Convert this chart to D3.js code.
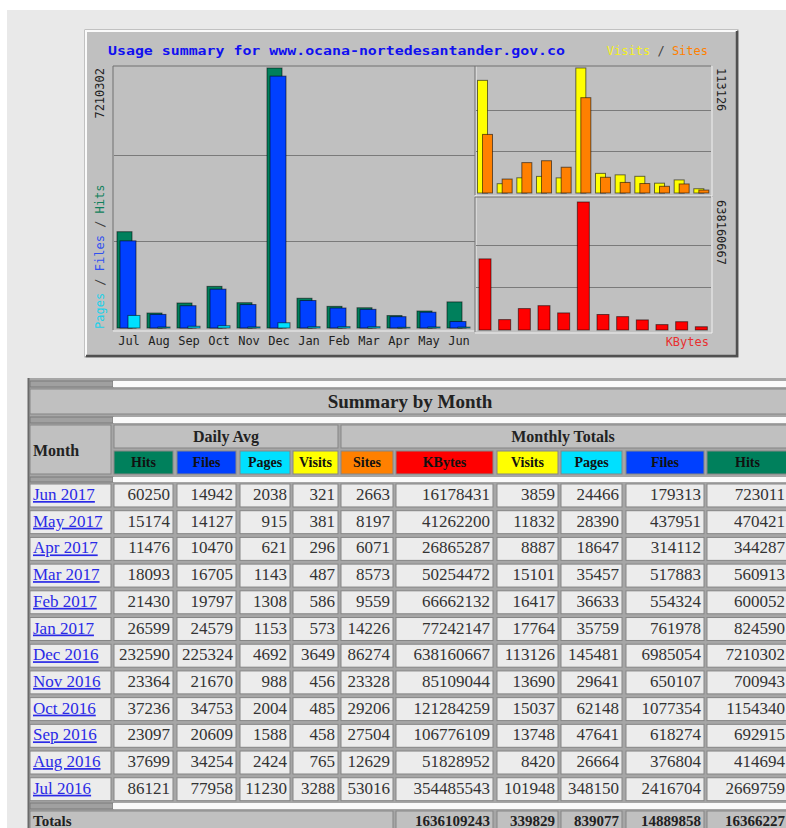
<!DOCTYPE html>
<html>
<head>
<meta charset="utf-8">
<script src="https://cdn.jsdelivr.net/npm/d3@7"></script>
<style>
html, body { margin: 0; padding: 0; background: #fff; overflow: hidden; }
svg { display: block; }
</style>
</head>
<body>
<div id="page"></div>
<script>
// months, oldest first (as on the graph)
var monthNames = ["Jul", "Aug", "Sep", "Oct", "Nov", "Dec", "Jan", "Feb", "Mar", "Apr", "May", "Jun"];
var monthYears = [2016, 2016, 2016, 2016, 2016, 2016, 2017, 2017, 2017, 2017, 2017, 2017];

// monthly totals
var hitsTotal   = [2669759, 414694, 692915, 1154340, 700943, 7210302, 824590, 600052, 560913, 344287, 470421, 723011];
var filesTotal  = [2416704, 376804, 618274, 1077354, 650107, 6985054, 761978, 554324, 517883, 314112, 437951, 179313];
var pagesTotal  = [348150, 26664, 47641, 62148, 29641, 145481, 35759, 36633, 35457, 18647, 28390, 24466];
var visitsTotal = [101948, 8420, 13748, 15037, 13690, 113126, 17764, 16417, 15101, 8887, 11832, 3859];
var sitesTotal  = [53016, 12629, 27504, 29206, 23328, 86274, 14226, 9559, 8573, 6071, 8197, 2663];
var kbytesTotal = [354485543, 51828952, 106776109, 121284259, 85109044, 638160667, 77242147, 66662132, 50254472, 26865287, 41262200, 16178431];

// daily averages
var hitsAvg   = [86121, 37699, 23097, 37236, 23364, 232590, 26599, 21430, 18093, 11476, 15174, 60250];
var filesAvg  = [77958, 34254, 20609, 34753, 21670, 225324, 24579, 19797, 16705, 10470, 14127, 14942];
var pagesAvg  = [11230, 2424, 1588, 2004, 988, 4692, 1153, 1308, 1143, 621, 915, 2038];
var visitsAvg = [3288, 765, 458, 485, 456, 3649, 573, 586, 487, 296, 381, 321];

var siteName = "www.ocana-nortedesantander.gov.co";

var C = {
    hits: "#00805c", files: "#0040ff", pages: "#00e0ff",
    visits: "#ffff00", sites: "#ff8000", kbytes: "#ff0000",
    grey: "#c0c0c0", ltgrey: "#e9e9e9"
};
var mono = "'DejaVu Sans Mono', monospace";
var serif = "'Liberation Serif', 'DejaVu Serif', serif";

var svg = d3.select("#page").append("svg")
    .attr("width", 786)
    .attr("height", 828);

// page background (screenshot has a white strip top/left)
svg.append("rect").attr("x", 7).attr("y", 10).attr("width", 779).attr("height", 818).attr("fill", C.ltgrey);

// ---------- graph ----------
var g = svg.append("g");
g.append("rect").attr("x", 85).attr("y", 30).attr("width", 653).attr("height", 327)
    .attr("fill", C.grey).attr("stroke", "#9a9a9a");
g.append("path").attr("d", "M86,356V31H737").attr("fill", "none").attr("stroke", "#fafafa").attr("stroke-width", 2);
g.append("path").attr("d", "M86,356H737V31").attr("fill", "none").attr("stroke", "#505050").attr("stroke-width", 2.5);

g.append("text").attr("x", 108).attr("y", 55)
    .attr("font-family", mono).attr("font-weight", "bold").attr("font-size", 12)
    .attr("fill", "#1010f0").attr("textLength", 457).attr("lengthAdjust", "spacingAndGlyphs")
    .text("Usage summary for " + siteName);

var leg = g.append("text").attr("x", 708).attr("y", 55).attr("text-anchor", "end")
    .attr("font-family", mono).attr("font-size", 12);
leg.append("tspan").attr("fill", "#f4f020").text("Visits");
leg.append("tspan").attr("fill", "#404040").text(" / ");
leg.append("tspan").attr("fill", C.sites).text("Sites");

// plot frames
function frame(x0, y0, x1, y1) {
    g.append("path").attr("d", "M" + x0 + "," + y1 + "V" + y0 + "H" + x1)
        .attr("fill", "none").attr("stroke", "#707070");
    g.append("path").attr("d", "M" + x0 + "," + (y1 + 1) + "H" + (x1 + 1) + "V" + y0)
        .attr("fill", "none").attr("stroke", "#f0f0f0");
}
frame(113, 66, 475, 330);
frame(475, 66, 711, 195);
frame(475, 197, 711, 332);

// main chart: hits / files / pages
var idx = d3.range(monthNames.length);
var xMain = d3.scaleBand().domain(idx).range([115, 475]);
var yMain = d3.scaleLinear().domain([0, d3.max(hitsTotal)]).range([328, 68]);

g.append("g").selectAll("line").data([1 / 3, 2 / 3]).enter().append("line")
    .attr("x1", 114).attr("x2", 475)
    .attr("y1", function(f) { return Math.round(yMain(f * yMain.domain()[1])) + 0.5; })
    .attr("y2", function(f) { return Math.round(yMain(f * yMain.domain()[1])) + 0.5; })
    .attr("stroke", "#7a7a7a");

var mainSeries = [
    {vals: hitsTotal, color: C.hits, dx: 2, w: 15},
    {vals: filesTotal, color: C.files, dx: 5, w: 16},
    {vals: pagesTotal, color: C.pages, dx: 13, w: 12}
];
mainSeries.forEach(function(s) {
    g.append("g").selectAll("rect").data(idx).enter().append("rect")
        .attr("x", function(i) { return xMain(i) + s.dx; })
        .attr("y", function(i) { return yMain(s.vals[i]); })
        .attr("width", s.w)
        .attr("height", function(i) { return yMain(0) - yMain(s.vals[i]); })
        .attr("fill", s.color)
        .attr("stroke", "rgba(0,0,0,0.55)");
});

var axMain = g.append("g").attr("transform", "translate(0,333)")
    .call(d3.axisBottom(xMain).tickSize(0).tickFormat(function(i) { return monthNames[i]; }));
axMain.select(".domain").remove();
axMain.selectAll("text").attr("font-family", mono).attr("font-size", 12)
    .attr("fill", "#222").attr("dx", "-1");

// left labels
g.append("text").attr("transform", "translate(104,68) rotate(-90)").attr("text-anchor", "end")
    .attr("font-family", mono).attr("font-size", 12).attr("fill", "#222")
    .text(d3.max(hitsTotal));
var lt = g.append("text").attr("transform", "translate(104,329) rotate(-90)")
    .attr("font-family", mono).attr("font-size", 12);
lt.append("tspan").attr("fill", "#20d0e8").text("Pages");
lt.append("tspan").attr("fill", "#404040").text(" / ");
lt.append("tspan").attr("fill", "#3050f0").text("Files");
lt.append("tspan").attr("fill", "#404040").text(" / ");
lt.append("tspan").attr("fill", "#10805c").text("Hits");

// right top: visits / sites
var xRight = d3.scaleBand().domain(idx).range([476, 712]);
var yVis = d3.scaleLinear().domain([0, d3.max(visitsTotal)]).range([193, 68]);
var yKb = d3.scaleLinear().domain([0, d3.max(kbytesTotal)]).range([330, 202]);

g.append("g").selectAll("line").data([1 / 3, 2 / 3]).enter().append("line")
    .attr("x1", 476).attr("x2", 711)
    .attr("y1", function(f) { return Math.round(yVis(f * yVis.domain()[1])) + 0.5; })
    .attr("y2", function(f) { return Math.round(yVis(f * yVis.domain()[1])) + 0.5; })
    .attr("stroke", "#7a7a7a");
g.append("g").selectAll("line").data([1 / 3, 2 / 3]).enter().append("line")
    .attr("x1", 476).attr("x2", 711)
    .attr("y1", function(f) { return Math.round(yKb(f * yKb.domain()[1])) + 0.5; })
    .attr("y2", function(f) { return Math.round(yKb(f * yKb.domain()[1])) + 0.5; })
    .attr("stroke", "#7a7a7a");

var rightSeries = [
    {vals: visitsTotal, color: C.visits, dx: 1.5, w: 10},
    {vals: sitesTotal, color: C.sites, dx: 6.5, w: 10}
];
rightSeries.forEach(function(s) {
    g.append("g").selectAll("rect").data(idx).enter().append("rect")
        .attr("x", function(i) { return xRight(i) + s.dx; })
        .attr("y", function(i) { return yVis(s.vals[i]); })
        .attr("width", s.w)
        .attr("height", function(i) { return yVis(0) - yVis(s.vals[i]); })
        .attr("fill", s.color)
        .attr("stroke", "rgba(0,0,0,0.55)");
});

g.append("g").selectAll("rect").data(idx).enter().append("rect")
    .attr("x", function(i) { return xRight(i) + 3; })
    .attr("y", function(i) { return yKb(kbytesTotal[i]); })
    .attr("width", 12)
    .attr("height", function(i) { return yKb(0) - yKb(kbytesTotal[i]); })
    .attr("fill", C.kbytes)
    .attr("stroke", "rgba(0,0,0,0.55)");

// right labels
g.append("text").attr("transform", "translate(717,68) rotate(90)")
    .attr("font-family", mono).attr("font-size", 12).attr("fill", "#222")
    .text(d3.max(visitsTotal));
g.append("text").attr("transform", "translate(717,200) rotate(90)")
    .attr("font-family", mono).attr("font-size", 12).attr("fill", "#222")
    .text(d3.max(kbytesTotal));
g.append("text").attr("x", 709).attr("y", 346).attr("text-anchor", "end")
    .attr("font-family", mono).attr("font-size", 12).attr("fill", "#e83030")
    .text("KBytes");

// ---------- table ----------
var t = svg.append("g");
var cols = [
    {x0: 114, x1: 173}, {x0: 177, x1: 236}, {x0: 240, x1: 290}, {x0: 293, x1: 338},
    {x0: 341, x1: 393}, {x0: 396, x1: 493}, {x0: 497, x1: 558}, {x0: 561, x1: 622},
    {x0: 626, x1: 704}, {x0: 707, x1: 788}
];
var headLabels = ["Hits", "Files", "Pages", "Visits", "Sites", "KBytes", "Visits", "Pages", "Files", "Hits"];
var headColors = [C.hits, C.files, C.pages, C.visits, C.sites, C.kbytes, C.visits, C.pages, C.files, C.hits];

// table body background (cell gaps)
t.append("rect").attr("x", 28).attr("y", 378).attr("width", 770).attr("height", 460).attr("fill", "#a6a6a6");
t.append("line").attr("x1", 28.5).attr("x2", 28.5).attr("y1", 378).attr("y2", 828).attr("stroke", "#6a6a6a").attr("stroke-width", 2);

function cell(x0, y0, x1, y1, fill) {
    t.append("rect").attr("x", x0).attr("y", y0).attr("width", x1 - x0).attr("height", y1 - y0)
        .attr("fill", fill).attr("stroke", "#858585");
}
function spacer(y0, y1) {
    t.append("rect").attr("x", 30).attr("y", y0).attr("width", 83).attr("height", y1 - y0).attr("fill", "#a0a0a0")
        .attr("stroke", "#7a7a7a");
    t.append("rect").attr("x", 113).attr("y", y0).attr("width", 680).attr("height", y1 - y0).attr("fill", "#fafafa");
}

spacer(381, 387);
cell(30, 389, 792, 414, C.grey);
t.append("text").attr("x", 410).attr("y", 408).attr("text-anchor", "middle")
    .attr("font-family", serif).attr("font-weight", "bold").attr("font-size", 19).attr("fill", "#222")
    .text("Summary by Month");
spacer(417, 423);

cell(30, 425, 111, 474, C.grey);
t.append("text").attr("x", 33).attr("y", 456)
    .attr("font-family", serif).attr("font-weight", "bold").attr("font-size", 16).attr("fill", "#222")
    .text("Month");
cell(114, 425, 338, 448, C.grey);
t.append("text").attr("x", 226).attr("y", 442).attr("text-anchor", "middle")
    .attr("font-family", serif).attr("font-weight", "bold").attr("font-size", 16).attr("fill", "#222")
    .text("Daily Avg");
cell(341, 425, 792, 448, C.grey);
t.append("text").attr("x", 563).attr("y", 442).attr("text-anchor", "middle")
    .attr("font-family", serif).attr("font-weight", "bold").attr("font-size", 16).attr("fill", "#222")
    .text("Monthly Totals");

cols.forEach(function(c, k) {
    cell(c.x0, 451, c.x1, 474, headColors[k]);
    t.append("text").attr("x", (c.x0 + c.x1) / 2).attr("y", 467).attr("text-anchor", "middle")
        .attr("font-family", serif).attr("font-weight", "bold").attr("font-size", 14).attr("fill", "#111")
        .text(headLabels[k]);
});
spacer(477, 482);

// rows: newest month first
var rowIdx = idx.slice().reverse();
var yRow = d3.scaleBand().domain(d3.range(rowIdx.length)).range([484, 800.7]).paddingInner(0.14).paddingOuter(0);

rowIdx.forEach(function(m, r) {
    var y0 = yRow(r), y1 = y0 + yRow.bandwidth();
    var vals = [hitsAvg[m], filesAvg[m], pagesAvg[m], visitsAvg[m], sitesTotal[m], kbytesTotal[m],
                visitsTotal[m], pagesTotal[m], filesTotal[m], hitsTotal[m]];
    cell(30, y0, 111, y1, "#ececec");
    t.append("text").attr("x", 33).attr("y", y0 + 16)
        .attr("font-family", serif).attr("font-size", 17).attr("fill", "#2a2ae6")
        .style("text-decoration", "underline")
        .text(monthNames[m] + " " + monthYears[m]);
    cols.forEach(function(c, k) {
        cell(c.x0, y0, c.x1, y1, "#ececec");
        t.append("text").attr("x", c.x1 - 3).attr("y", y0 + 16).attr("text-anchor", "end")
            .attr("font-family", serif).attr("font-size", 17).attr("fill", "#333")
            .text(vals[k]);
    });
});

spacer(803, 809);
cell(30, 811, 393, 840, C.grey);
t.append("text").attr("x", 33).attr("y", 826)
    .attr("font-family", serif).attr("font-weight", "bold").attr("font-size", 15).attr("fill", "#222")
    .text("Totals");
var totals = [d3.sum(kbytesTotal), d3.sum(visitsTotal), d3.sum(pagesTotal), d3.sum(filesTotal), d3.sum(hitsTotal)];
totals.forEach(function(v, k) {
    var c = cols[k + 5];
    cell(c.x0, 811, c.x1, 840, C.grey);
    t.append("text").attr("x", c.x1 - 3).attr("y", 826).attr("text-anchor", "end")
        .attr("font-family", serif).attr("font-weight", "bold").attr("font-size", 15).attr("fill", "#222")
        .text(v);
});
</script>
</body>
</html>
